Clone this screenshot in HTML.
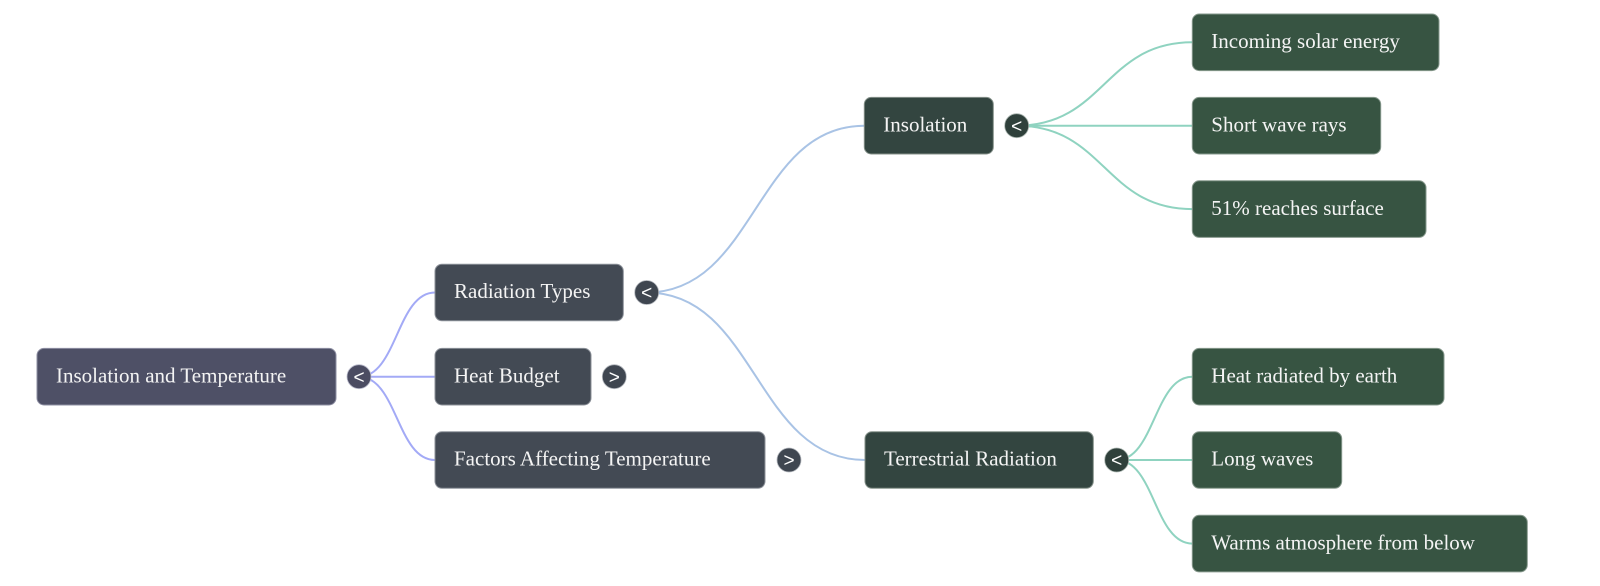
<!DOCTYPE html>
<html>
<head>
<meta charset="utf-8">
<style>
  html,body{margin:0;padding:0;background:#ffffff;}
  body{width:1600px;height:586px;overflow:hidden;}
  svg{display:block;}
  .t{font-family:"Liberation Serif","Times New Roman",serif;font-size:21px;fill:#f4f4f4;}
  .b{font-family:"Liberation Sans",Arial,sans-serif;font-size:19px;font-weight:normal;fill:#ffffff;text-anchor:middle;}
</style>
</head>
<body>
<svg width="1600" height="586" viewBox="0 0 1600 586" xmlns="http://www.w3.org/2000/svg">
  <!-- connectors -->
  <g fill="none" stroke-width="2">
    <g stroke="#a3aaf6">
      <path d="M359 376.7 C397 376.7 397 292.5 435 292.5"/>
      <path d="M359 376.7 L435 376.7"/>
      <path d="M359 376.7 C397 376.7 397 460 435 460"/>
    </g>
    <g stroke="#a9c3e5">
      <path d="M646.7 292.5 C755.5 292.5 755.5 125.7 864.3 125.7"/>
      <path d="M646.7 292.5 C755.8 292.5 755.8 460 865 460"/>
    </g>
    <g stroke="#8fd3c0">
      <path d="M1016.7 125.7 C1104.5 125.7 1104.5 42.3 1192.3 42.3"/>
      <path d="M1016.7 125.7 L1192.3 125.7"/>
      <path d="M1016.7 125.7 C1104.5 125.7 1104.5 209.1 1192.3 209.1"/>
      <path d="M1116.7 460 C1154.5 460 1154.5 376.7 1192.3 376.7"/>
      <path d="M1116.7 460 L1192.3 460"/>
      <path d="M1116.7 460 C1154.5 460 1154.5 543.6 1192.3 543.6"/>
    </g>
  </g>

  <!-- root -->
  <rect x="37" y="348.4" width="299" height="56.6" rx="7" fill="#4e5066" stroke="#8e8fa3" stroke-width="1"/>
  <text class="t" x="56" y="382.4">Insolation and Temperature</text>
  <circle cx="359" cy="376.7" r="12" fill="#4b4c62" stroke="#b9bacb" stroke-width="0.8"/>
  <text class="b" x="359" y="383.3">&lt;</text>

  <!-- level 1 -->
  <rect x="435" y="264.2" width="188.3" height="56.6" rx="7" fill="#434a54" stroke="#8c9199" stroke-width="1"/>
  <text class="t" x="454" y="298.2">Radiation Types</text>
  <circle cx="646.7" cy="292.5" r="12" fill="#3f4650" stroke="#b4b8be" stroke-width="0.8"/>
  <text class="b" x="646.7" y="299.1">&lt;</text>

  <rect x="435" y="348.4" width="156" height="56.6" rx="7" fill="#434a54" stroke="#8c9199" stroke-width="1"/>
  <text class="t" x="454" y="382.4">Heat Budget</text>
  <circle cx="614.3" cy="376.7" r="12" fill="#3f4650" stroke="#b4b8be" stroke-width="0.8"/>
  <text class="b" x="614.3" y="383.3">&gt;</text>

  <rect x="435" y="431.7" width="330" height="56.6" rx="7" fill="#434a54" stroke="#8c9199" stroke-width="1"/>
  <text class="t" x="454" y="465.7">Factors Affecting Temperature</text>
  <circle cx="789" cy="460" r="12" fill="#3f4650" stroke="#b4b8be" stroke-width="0.8"/>
  <text class="b" x="789" y="466.6">&gt;</text>

  <!-- level 2 -->
  <rect x="864.3" y="97.4" width="129" height="56.6" rx="7" fill="#334540" stroke="#849089" stroke-width="1"/>
  <text class="t" x="883.3" y="131.4">Insolation</text>
  <circle cx="1016.7" cy="125.7" r="12" fill="#2f403b" stroke="#aab5b0" stroke-width="0.8"/>
  <text class="b" x="1016.7" y="132.3">&lt;</text>

  <rect x="865" y="431.7" width="228.3" height="56.6" rx="7" fill="#334540" stroke="#849089" stroke-width="1"/>
  <text class="t" x="884" y="465.7">Terrestrial Radiation</text>
  <circle cx="1116.7" cy="460" r="12" fill="#2f403b" stroke="#aab5b0" stroke-width="0.8"/>
  <text class="b" x="1116.7" y="466.6">&lt;</text>

  <!-- level 3 -->
  <g fill="#375442" stroke="#86988c" stroke-width="1">
    <rect x="1192.3" y="14" width="246.7" height="56.6" rx="7"/>
    <rect x="1192.3" y="97.4" width="188.4" height="56.6" rx="7"/>
    <rect x="1192.3" y="180.8" width="233.7" height="56.6" rx="7"/>
    <rect x="1192.3" y="348.4" width="251.7" height="56.6" rx="7"/>
    <rect x="1192.3" y="431.7" width="149.4" height="56.6" rx="7"/>
    <rect x="1192.3" y="515.3" width="335" height="56.6" rx="7"/>
  </g>
  <text class="t" x="1211.3" y="48">Incoming solar energy</text>
  <text class="t" x="1211.3" y="131.4">Short wave rays</text>
  <text class="t" x="1211.3" y="214.8">51% reaches surface</text>
  <text class="t" x="1211.3" y="382.4">Heat radiated by earth</text>
  <text class="t" x="1211.3" y="465.7">Long waves</text>
  <text class="t" x="1211.3" y="549.3">Warms atmosphere from below</text>
</svg>
</body>
</html>
